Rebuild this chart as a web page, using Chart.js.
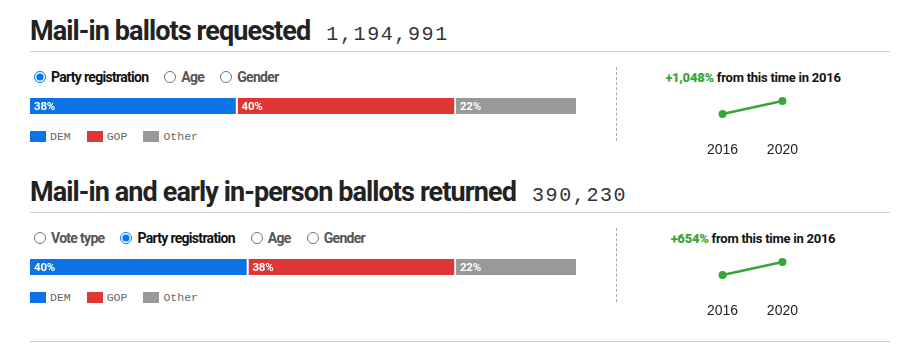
<!DOCTYPE html>
<html>
<head>
<meta charset="utf-8">
<script src="https://cdn.jsdelivr.net/npm/chart.js@4/dist/chart.umd.min.js"></script>
<style>
  html,body{margin:0;padding:0;background:#fff;width:915px;height:356px;overflow:hidden;}
  .abs{position:absolute;white-space:nowrap;}
  .title{font-family:Roboto,sans-serif;font-weight:bold;font-size:27px;color:#222;line-height:27px;}
  .title .t{letter-spacing:-0.9px;}
  .num{font-family:"Liberation Mono","DejaVu Sans Mono",monospace;font-size:20px;color:#333;letter-spacing:1.6px;margin-left:16px;font-weight:normal;}
  .rule{position:absolute;height:1px;background:#cfcfcf;}
  .radios{font-family:Roboto,sans-serif;font-size:14px;font-weight:bold;color:#555;display:flex;align-items:center;letter-spacing:-0.7px;}
  .radios label{display:flex;align-items:center;margin-right:16px;}
  .radios label.on{color:#111;}
  .radios input{margin:0 5px 0 0;width:12px;height:12px;}
  .legend{font-family:"Liberation Mono","DejaVu Sans Mono",monospace;font-size:11.5px;color:#666;display:flex;align-items:center;}
  .legend span.sw{display:inline-block;width:16px;height:11px;margin-right:4px;}
  .legend span.it{display:flex;align-items:center;margin-right:16px;}
  .dash{position:absolute;width:0;border-left:1px dashed #aaa;}
  .chg{font-family:Roboto,sans-serif;font-weight:bold;font-size:13px;color:#111;text-align:center;width:240px;letter-spacing:-0.25px;}
  .chg b{color:#36a736;}
  canvas{position:absolute;}
</style>
</head>
<body>
<script>
// ---- data ----
const parties = ['DEM', 'GOP', 'Other'];
const partyColors = ['#0b73e5', '#df3535', '#999999'];
const requestedShares = [38, 40, 22];
const returnedShares = [40, 38, 22];
const requestedTotal = '1,194,991';
const returnedTotal = '390,230';
const sparkYears = ['2016', '2020'];
const requestedByYear = [104093, 1194991];
const returnedByYear = [51755, 390230];
const requestedChange = '+1,048%';
const returnedChange = '+654%';
const sparkColor = '#36a736';

const sections = [
  {title:'Mail-in ballots requested', total:requestedTotal, shares:requestedShares, spark:requestedByYear, change:requestedChange,
   radios:[['Party registration',true],['Age',false],['Gender',false]], top:0},
  {title:'Mail-in and early in-person ballots returned', total:returnedTotal, shares:returnedShares, spark:returnedByYear, change:returnedChange,
   radios:[['Vote type',false],['Party registration',true],['Age',false],['Gender',false]], top:161}
];

function el(tag, cls, css, html){
  const e=document.createElement(tag); if(cls) e.className=cls;
  Object.assign(e.style, css||{}); if(html!==undefined) e.innerHTML=html;
  document.body.appendChild(e); return e;
}

const barLabels = {
  id:'barLabels',
  afterDatasetsDraw(chart){
    const ctx=chart.ctx; ctx.save();
    ctx.font='bold 11.5px Roboto,sans-serif';
    try{ctx.letterSpacing='-0.2px';}catch(e){}
    ctx.fillStyle='#fff'; ctx.textBaseline='middle'; ctx.textAlign='left';
    chart.data.datasets.forEach((ds,i)=>{
      const e=chart.getDatasetMeta(i).data[0];
      ctx.fillText(ds.data[0]+'%', Math.min(e.x,e.base)+4, e.y+1);
    });
    ctx.restore();
  }
};

sections.forEach((s,si)=>{
  const T=s.top;
  el('div','abs title',{left:'30px',top:(T+18)+'px'}, '<span class="t">'+s.title+'</span><span class="num">'+s.total+'</span>');
  el('div','rule',{left:'30px',top:(T+51)+'px',width:'860px'});
  const r=el('div','abs radios',{left:'34px',top:(T+68)+'px',height:'18px'});
  s.radios.forEach(([name,on])=>{
    const l=document.createElement('label'); if(on) l.className='on';
    l.innerHTML='<input type="radio" name="r'+si+'" '+(on?'checked':'')+'>'+name;
    r.appendChild(l);
  });
  // stacked bar
  const c=el('canvas','',{left:'30px',top:(T+98)+'px'});
  c.width=546; c.height=16;
  new Chart(c,{
    type:'bar',
    data:{labels:[''],datasets:parties.map((p,i)=>({label:p,data:[s.shares[i]],backgroundColor:partyColors[i],
      borderColor:'#ffffff',borderWidth:{left:0,right:i<parties.length-1?2:0,top:0,bottom:0},borderSkipped:false,
      barPercentage:1,categoryPercentage:1}))},
    options:{indexAxis:'y',responsive:false,animation:false,events:[],
      layout:{padding:0},
      plugins:{legend:{display:false},tooltip:{enabled:false}},
      scales:{x:{stacked:true,display:false,min:0,max:100},y:{stacked:true,display:false}}},
    plugins:[barLabels]
  });
  // legend
  const lg=el('div','abs legend',{left:'30px',top:(T+130)+'px',height:'12px'});
  parties.forEach((p,i)=>{
    const it=document.createElement('span'); it.className='it';
    it.innerHTML='<span class="sw" style="background:'+partyColors[i]+'"></span>'+p;
    lg.appendChild(it);
  });
  // divider + change
  el('div','dash',{left:'616px',top:(T+67)+'px',height:'74px'});
  el('div','abs chg',{left:'633px',top:(T+70)+'px'}, '<b>'+s.change+'</b> from this time in 2016');
  const sc=el('canvas','',{left:'679px',top:(T+93)+'px'});
  sc.width=147; sc.height=67;
  new Chart(sc,{
    type:'line',
    data:{labels:sparkYears,datasets:[{data:s.spark,borderColor:sparkColor,backgroundColor:sparkColor,
      borderWidth:2.5,pointRadius:4,pointHoverRadius:4,pointBorderWidth:0,clip:false,tension:0}]},
    options:{responsive:false,animation:false,events:[],
      layout:{padding:{left:0,right:0,top:8,bottom:0}},
      plugins:{legend:{display:false},tooltip:{enabled:false}},
      scales:{
        x:{offset:false,grid:{display:false,drawTicks:false},border:{display:false},
           afterFit(scale){ scale.height=46; },
           ticks:{color:'#222',font:{family:'"Liberation Sans",sans-serif',size:14},padding:28,maxRotation:0,autoSkip:false}},
        y:{display:false,min:s.spark[0],max:s.spark[1]}
      }}
  });
});
el('div','rule',{left:'30px',top:'341px',width:'860px'});
</script>
</body>
</html>
